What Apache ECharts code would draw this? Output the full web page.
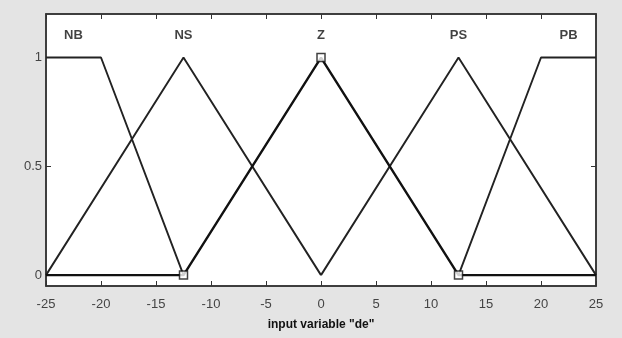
<!DOCTYPE html>
<html><head><meta charset="utf-8">
<script src="https://cdn.jsdelivr.net/npm/echarts@6/dist/echarts.min.js"></script>
<style>html,body{margin:0;padding:0;background:#e4e4e4;}#c{width:622px;height:338px;}</style>
</head><body><div id="c"></div>
<script>
// Membership functions of input variable "de"
const mfNames = ['NB', 'NS', 'Z', 'PS', 'PB'];
const NB = [[-25, 1], [-20, 1], [-12.5, 0]];
const NS = [[-25, 0], [-12.5, 1], [0, 0]];
const Z  = [[-25, 0], [-12.5, 0], [0, 1], [12.5, 0], [25, 0]];
const PS = [[0, 0], [12.5, 1], [25, 0]];
const PB = [[12.5, 0], [20, 1], [25, 1]];
const Zvertices = [[-12.5, 0], [0, 1], [12.5, 0]];
const labelX = [-22.5, -12.5, 0, 12.5, 22.5];
const labelY = 1.1;
const xTicks = [-25, -20, -15, -10, -5, 0, 5, 10, 15, 20, 25];
const yTicks = [0, 0.5, 1];

const chart = echarts.init(document.getElementById('c'), null, {renderer: 'canvas'});
const lineCol = '#222';
const thin = (name, data) => ({
  type: 'line', name, data, xAxisIndex: 0, yAxisIndex: 0,
  symbol: 'none', lineStyle: {color: lineCol, width: 1.9}, animation: false, z: 3
});
const labelFont = {fontFamily: 'Liberation Sans, Arial', fontSize: 13, fontWeight: 'bold', color: '#111'};
chart.setOption({
  backgroundColor: '#e4e4e4',
  animation: false,
  grid: {left: 46, right: 26, top: 14, bottom: 52, show: true, backgroundColor: '#ffffff', borderColor: '#333', borderWidth: 1.5},
  xAxis: [{
    type: 'value', min: -25, max: 25, interval: 5, position: 'bottom',
    name: 'input variable "de"', nameLocation: 'middle', nameGap: 33,
    nameTextStyle: {fontFamily: 'Liberation Sans, Arial', fontSize: 12, fontWeight: 'bold', color: '#111'},
    axisLine: {show: true, onZero: false, lineStyle: {color: '#333', width: 1.5}},
    axisTick: {show: true, inside: true, length: 5, lineStyle: {color: '#333'}},
    axisLabel: {margin: 12, fontFamily: 'Liberation Sans, Arial', fontSize: 13, color: '#444',
      customValues: xTicks},
    splitLine: {show: false}
  }, {
    type: 'value', min: -25, max: 25, interval: 5, position: 'top',
    axisLine: {show: true, onZero: false, lineStyle: {color: '#333', width: 1.5}},
    axisTick: {show: true, inside: true, length: 5, lineStyle: {color: '#333'}},
    axisLabel: {show: false}, splitLine: {show: false}
  }],
  yAxis: [{
    type: 'value', min: -0.05, max: 1.2, position: 'left',
    axisLine: {show: true, onZero: false, lineStyle: {color: '#333', width: 1.5}},
    axisTick: {show: true, inside: true, length: 5, customValues: yTicks, lineStyle: {color: '#333'}},
    axisLabel: {margin: 4, fontFamily: 'Liberation Sans, Arial', fontSize: 13, color: '#444', customValues: yTicks},
    splitLine: {show: false}
  }, {
    type: 'value', min: -0.05, max: 1.2, position: 'right',
    axisLine: {show: true, onZero: false, lineStyle: {color: '#333', width: 1.5}},
    axisTick: {show: true, inside: true, length: 5, customValues: yTicks, lineStyle: {color: '#333'}},
    axisLabel: {show: false}, splitLine: {show: false}
  }],
  series: [
    thin('NB', NB), thin('NS', NS), thin('PS', PS), thin('PB', PB),
    {type: 'line', name: 'Z', data: Z, symbol: 'none', lineStyle: {color: '#111', width: 2.4}, z: 4},
    {type: 'scatter', name: 'Zv', data: Zvertices, symbol: 'rect', symbolSize: 8,
      itemStyle: {color: '#fff', borderColor: '#111', borderWidth: 1.5}, z: 5},
    {type: 'scatter', name: 'labels', data: labelX.map((x, i) => ({value: [x, labelY], name: mfNames[i]})),
      symbolSize: 0, silent: true,
      label: {show: true, position: 'inside', formatter: p => p.name, ...labelFont}, z: 6}
  ]
});
</script></body></html>
